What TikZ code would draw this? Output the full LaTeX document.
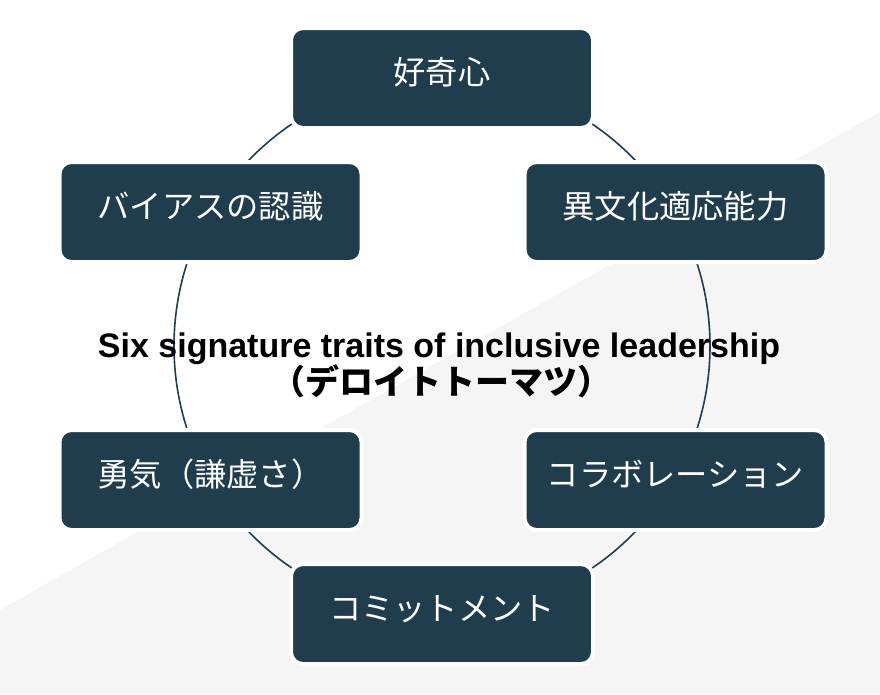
\documentclass[tikz,border=0pt]{standalone}
\usepackage{fontspec}
\setmainfont{Liberation Sans}
\newfontfamily\cjk{Noto Sans CJK JP}
\definecolor{boxc}{HTML}{1F3D4D}
\definecolor{bggray}{HTML}{F5F5F5}
\tikzset{
  trait/.style={draw=white, line width=3pt, fill=boxc, rounded corners=9pt,
    minimum width=226.5pt, minimum height=75pt, inner sep=0pt,
    text=white, text height=18pt, text depth=9pt,
    font=\cjk\fontsize{24.2pt}{24.2pt}\selectfont},
  ring/.style={draw=boxc, line width=1.2pt},
  titlefont/.style={font=\bfseries\fontsize{25.5pt}{27pt}\selectfont},
  titlecjk/.style={font=\cjk\bfseries\fontsize{25.5pt}{27pt}\selectfont}
}
\begin{document}
\begin{tikzpicture}[x=0.75pt,y=-0.75pt]
  % background
  \fill[white] (0,0) rectangle (880,694);
  \fill[bggray] (0,610) -- (880,112) -- (880,694) -- (0,694) -- cycle;
  \useasboundingbox (0,0) rectangle (880,694);
  % cycle ring
  \coordinate (c) at (442,346);
  \draw[ring] (c) circle[radius=201pt];
  % nodes
  \node[trait] (cur) at (442,78) {好奇心};
  \node[trait] (bias) at (210.5,212) {バイアスの認識};
  \node[trait] (cq) at (675.5,212) {異文化適応能力};
  \node[trait] (cour) at (210.5,480) {勇気（謙虚さ）};
  \node[trait] (colab) at (675.5,480) {コラボレーション};
  \node[trait] (comm) at (442,614) {コミットメント};
  % title
  \node[titlefont, anchor=base, inner sep=0pt] (title1) at (439,357) {Six signature traits of inclusive leadership};
  \node[titlecjk, anchor=base, inner sep=0pt] (title2) at (441,394) {（デロイトトーマツ）};
\end{tikzpicture}
\end{document}
